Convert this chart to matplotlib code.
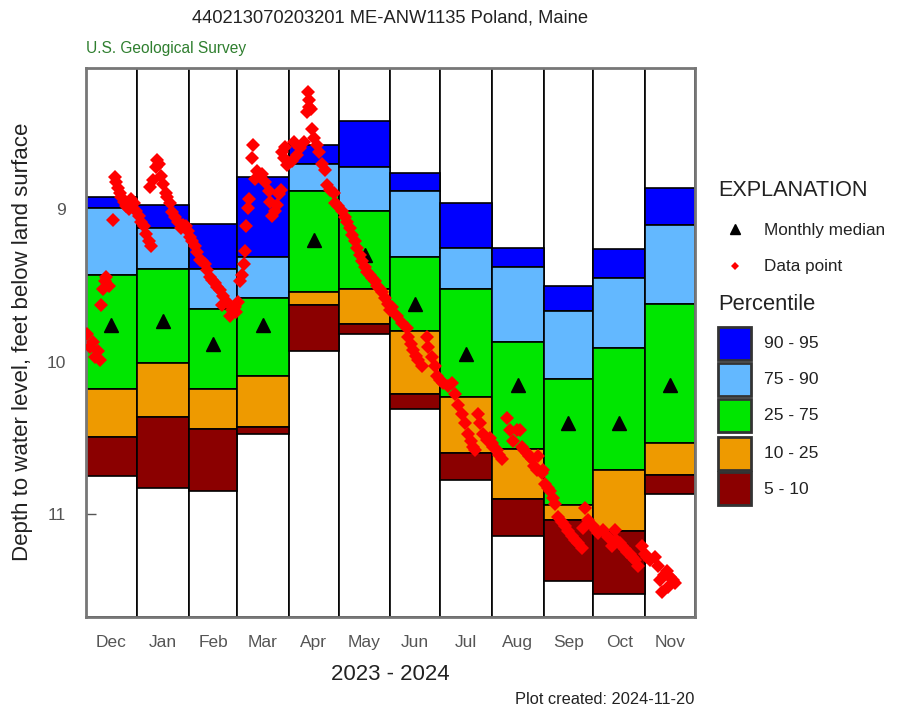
import matplotlib
matplotlib.use("Agg")
import matplotlib.pyplot as plt
import pandas as pd
from matplotlib.patches import Rectangle

# Monthly percentile bands (depth, ft below land surface), Dec 2023 - Nov 2024
months = ["Dec", "Jan", "Feb", "Mar", "Apr", "May", "Jun", "Jul", "Aug", "Sep", "Oct", "Nov"]
p05 = [10.75, 10.83, 10.85, 10.475, 9.93, 9.82, 10.31, 10.775, 11.14, 11.44, 11.52, 10.87]
p10 = [10.49, 10.36, 10.44, 10.425, 9.63, 9.75, 10.21, 10.60, 10.90, 11.04, 11.11, 10.74]
p25 = [10.18, 10.01, 10.18, 10.09, 9.54, 9.52, 9.80, 10.23, 10.57, 10.94, 10.71, 10.53]
p75 = [9.43, 9.39, 9.655, 9.58, 8.88, 9.01, 9.31, 9.52, 9.87, 10.11, 9.91, 9.62]
p90 = [8.99, 9.12, 9.39, 9.31, 8.70, 8.72, 8.88, 9.255, 9.375, 9.665, 9.45, 9.10]
p95 = [8.92, 8.97, 9.095, 8.79, 8.58, 8.42, 8.76, 8.955, 9.255, 9.50, 9.26, 8.86]
median = [9.76, 9.73, 9.88, 9.76, 9.20, 9.30, 9.62, 9.95, 10.15, 10.40, 10.40, 10.15]

# Observations: days since 2023-12-01 and depth
obs_day = [
    1.0, 2.5, 4.5, 5.5, 7.5, 8.5, 9.5, 10.5, 11.5, 12.5, 14.0, 16.5, 17.5, 18.5,
    19.5, 20.5, 21.5, 23.0, 24.5, 26.0, 27.5, 29.0, 30.5,
    32.0, 33.5, 35.0, 36.5, 38.0, 39.5, 38.8, 40.5, 42.0, 43.0, 44.0, 45.0, 46.5,
    48.0, 49.0, 50.5, 52.0, 53.5, 55.5, 57.0, 58.5, 60.0, 61.5,
    62.6, 64.0, 65.6, 67.0, 68.6, 70.0, 71.7, 73.0, 74.7, 76.0, 77.7, 79.0, 80.7,
    81.7, 82.5, 84.7, 86.7, 87.7, 89.7,
    90.5, 91.5, 92.9, 93.9, 94.9, 95.9, 96.3, 97.5, 98.3, 99.9, 100.3, 101.9,
    102.9, 104.5, 105.9, 107.9, 109.9, 110.9, 111.9, 113.9, 114.9, 115.9, 117.5,
    117.9, 118.9, 119.5, 120.9, 123.9, 124.9, 126.9, 128.9, 130.9, 132.9, 133.5,
    133.9, 134.3, 135.3, 135.9, 136.9, 138.9, 139.9, 141.9, 143.9, 144.9, 146.9,
    148.9,
    149.9, 151.5, 153.9, 155.5, 156.9, 158.5, 159.9, 161.5, 162.9, 164.5, 165.9,
    167.5, 168.9, 170.5, 171.9, 173.5, 174.9, 176.5, 177.9, 179.9, 181.5, 182.9,
    183.8, 186.8, 189.8, 192.8, 193.8, 195.3, 196.8, 198.3, 199.8, 201.8, 204.8,
    205.8, 207.8, 209.8, 210.8, 212.8,
    214.8, 217.8, 219.8, 221.8, 223.8, 225.8, 227.8, 229.8, 231.3, 232.8, 233.8,
    235.8, 236.8, 238.8, 240.8, 242.8,
    243.8, 244.6, 246.8, 248.3, 249.8, 252.9, 254.8, 256.8, 258.9, 260.8, 261.9,
    263.4, 264.9, 266.4, 267.9, 269.4, 270.9, 273.9,
    271.8, 274.8, 275.9, 277.4, 278.9, 280.4, 281.9, 283.9, 285.9, 287.9, 289.9,
    291.9, 293.9, 295.9, 297.9, 299.9, 301.9, 298.9,
    304.9, 306.4, 307.9, 310.9, 313.9, 317.9, 315.9, 318.4, 320.9, 322.4, 323.9,
    325.4, 326.9, 328.4, 329.9, 331.9, 333.9,
    335.9, 337.4, 338.9, 341.9, 343.9, 344.9, 345.9, 347.4, 348.9, 349.9, 351.2,
    352.7, 354.2,
]
obs_depth = [
    9.82, 9.90, 9.87, 9.97, 9.93, 9.99, 9.63, 9.52, 9.47, 9.44, 9.50, 9.07, 8.79, 8.82,
    8.86, 8.89, 8.92, 8.95, 8.98, 9.00, 8.93, 8.96, 9.01,
    9.04, 9.08, 9.11, 9.16, 9.21, 9.24, 8.85, 8.81, 8.72, 8.675, 8.70, 8.78, 8.83,
    8.89, 8.92, 8.96, 9.02, 9.05, 9.08, 9.12, 9.10, 9.11, 9.14,
    9.18, 9.21, 9.24, 9.28, 9.33, 9.34, 9.36, 9.40, 9.44, 9.46, 9.48, 9.51, 9.53,
    9.63, 9.57, 9.61, 9.70, 9.66, 9.64,
    9.67, 9.61, 9.47, 9.43, 9.36, 9.27, 9.11, 8.99, 8.93, 8.66, 8.58, 8.80,
    8.75, 8.78, 8.77, 8.82, 8.88, 8.95, 9.04, 9.01, 8.97, 8.90, 8.87,
    8.62, 8.66, 8.59, 8.71, 8.68, 8.555, 8.64, 8.60, 8.555, 8.36, 8.23,
    8.28, 8.33, 8.34, 8.47, 8.53, 8.58, 8.62, 8.70, 8.74, 8.84, 8.87,
    8.89,
    8.96, 8.98, 9.01, 9.05, 9.08, 9.12, 9.17, 9.21, 9.25, 9.30, 9.34,
    9.38, 9.41, 9.43, 9.45, 9.47, 9.50, 9.52, 9.54, 9.58, 9.62, 9.66,
    9.64, 9.70, 9.745, 9.78, 9.84, 9.88, 9.92, 9.96, 9.99, 10.03, 9.84,
    9.90, 9.97, 10.03, 10.09, 10.12,
    10.14, 10.16, 10.14, 10.21, 10.28, 10.34, 10.40, 10.47, 10.52, 10.56, 10.58,
    10.34, 10.40, 10.47, 10.51, 10.50,
    10.53, 10.56, 10.58, 10.61, 10.64, 10.37, 10.45, 10.52, 10.45, 10.45, 10.56,
    10.58, 10.60, 10.62, 10.64, 10.68, 10.71, 10.73,
    10.62, 10.71, 10.80, 10.83, 10.85, 10.89, 10.93, 11.02, 11.05, 11.08, 11.11,
    11.14, 11.17, 11.19, 11.22, 10.96, 11.04, 11.09,
    11.08, 11.10, 11.125, 11.10, 11.15, 11.10, 11.21, 11.17, 11.19, 11.21, 11.23,
    11.25, 11.26, 11.28, 11.30, 11.34, 11.21,
    11.26, 11.28, 11.30, 11.28, 11.34, 11.43, 11.51, 11.40, 11.37, 11.475, 11.41,
    11.43, 11.45,
]

band_colors = ["#0000FF", "#63B8FF", "#00E600", "#EE9A00", "#8B0000"]
band_labels = ["90 - 95", "75 - 90", "25 - 75", "10 - 25", "5 - 10"]

plt.rcParams["font.family"] = ["Liberation Sans", "DejaVu Sans"]

starts = pd.date_range("2023-12-01", periods=13, freq="MS")
edges = (starts - starts[0]).days.to_numpy()
centers = (edges[:-1] + edges[1:]) / 2

fig = plt.figure(figsize=(8.99, 7.08), dpi=100)
ax = fig.add_axes([0.0953, 0.1285, 0.6778, 0.7759])
ymin, ymax = 8.07, 11.674
ax.set_xlim(edges[0], edges[-1])
ax.set_ylim(ymax, ymin)

for i in range(12):
    x0, w = edges[i], edges[i + 1] - edges[i]
    ax.add_patch(Rectangle((x0, ymin), w, ymax - ymin, facecolor="white",
                           edgecolor="black", lw=1.2, zorder=1))
    bounds = [p95[i], p90[i], p75[i], p25[i], p10[i], p05[i]]
    for k in range(5):
        ax.add_patch(Rectangle((x0, bounds[k]), w, bounds[k + 1] - bounds[k],
                               facecolor=band_colors[k], edgecolor="black",
                               lw=1.2, zorder=2))

ax.plot(centers, median, "^", color="black", ms=10.5, zorder=3)
ax.plot(obs_day, obs_depth, "D", color="#FF0000", ms=7, mew=0, zorder=4)

ax.set_yticks([9, 10, 11])
ax.set_yticklabels(["9", "10", "11"])
ax.tick_params(axis="y", direction="in", length=7, width=1, color="#555555",
               labelcolor="#555555", labelsize=12.5, pad=14)
ax.set_xticks(centers)
ax.set_xticklabels(months)
ax.tick_params(axis="x", length=0, labelcolor="#555555", labelsize=12.5, pad=13)
for s in ax.spines.values():
    s.set_color("#777777")
    s.set_linewidth(2)

# overlay in pixel coordinates for titles and explanation
ov = fig.add_axes([0, 0, 1, 1])
ov.set_xlim(0, 899)
ov.set_ylim(708, 0)
ov.axis("off")

ov.text(390, 18, "440213070203201 ME-ANW1135 Poland, Maine", ha="center",
        va="center", fontsize=13.2, color="#222222")
ov.text(86, 48, "U.S. Geological Survey", ha="left", va="center",
        fontsize=11.2, color="#2F7F2F")
ov.text(23, 342, "Depth to water level, feet below land surface", rotation=90,
        ha="center", va="center", fontsize=16, color="#222222")
ov.text(390, 675, "2023 - 2024", ha="center", va="center", fontsize=16,
        color="#222222")
ov.text(694, 700, "Plot created: 2024-11-20", ha="right", va="center",
        fontsize=11.8, color="#222222")

ov.text(718, 190, "EXPLANATION", ha="left", va="center", fontsize=15.6,
        color="#222222")
ov.plot([735], [229], "^", color="black", ms=7.5)
ov.text(764, 230, "Monthly median", ha="left", va="center", fontsize=12.3,
        color="#222222")
ov.plot([735], [266], "D", color="#FF0000", ms=3.8, mew=0)
ov.text(764, 267, "Data point", ha="left", va="center", fontsize=12.3,
        color="#222222")
ov.text(718, 305, "Percentile", ha="left", va="center", fontsize=15.8,
        color="#222222")
box_top = [327, 363, 399, 437, 472]
for k in range(5):
    ov.add_patch(Rectangle((718, box_top[k]), 33, 33, facecolor=band_colors[k],
                           edgecolor="#333333", lw=2))
    ov.text(764, box_top[k] + 17, band_labels[k], ha="left", va="center",
            fontsize=12.6, color="#222222")

fig.savefig("out.png", dpi=100)
